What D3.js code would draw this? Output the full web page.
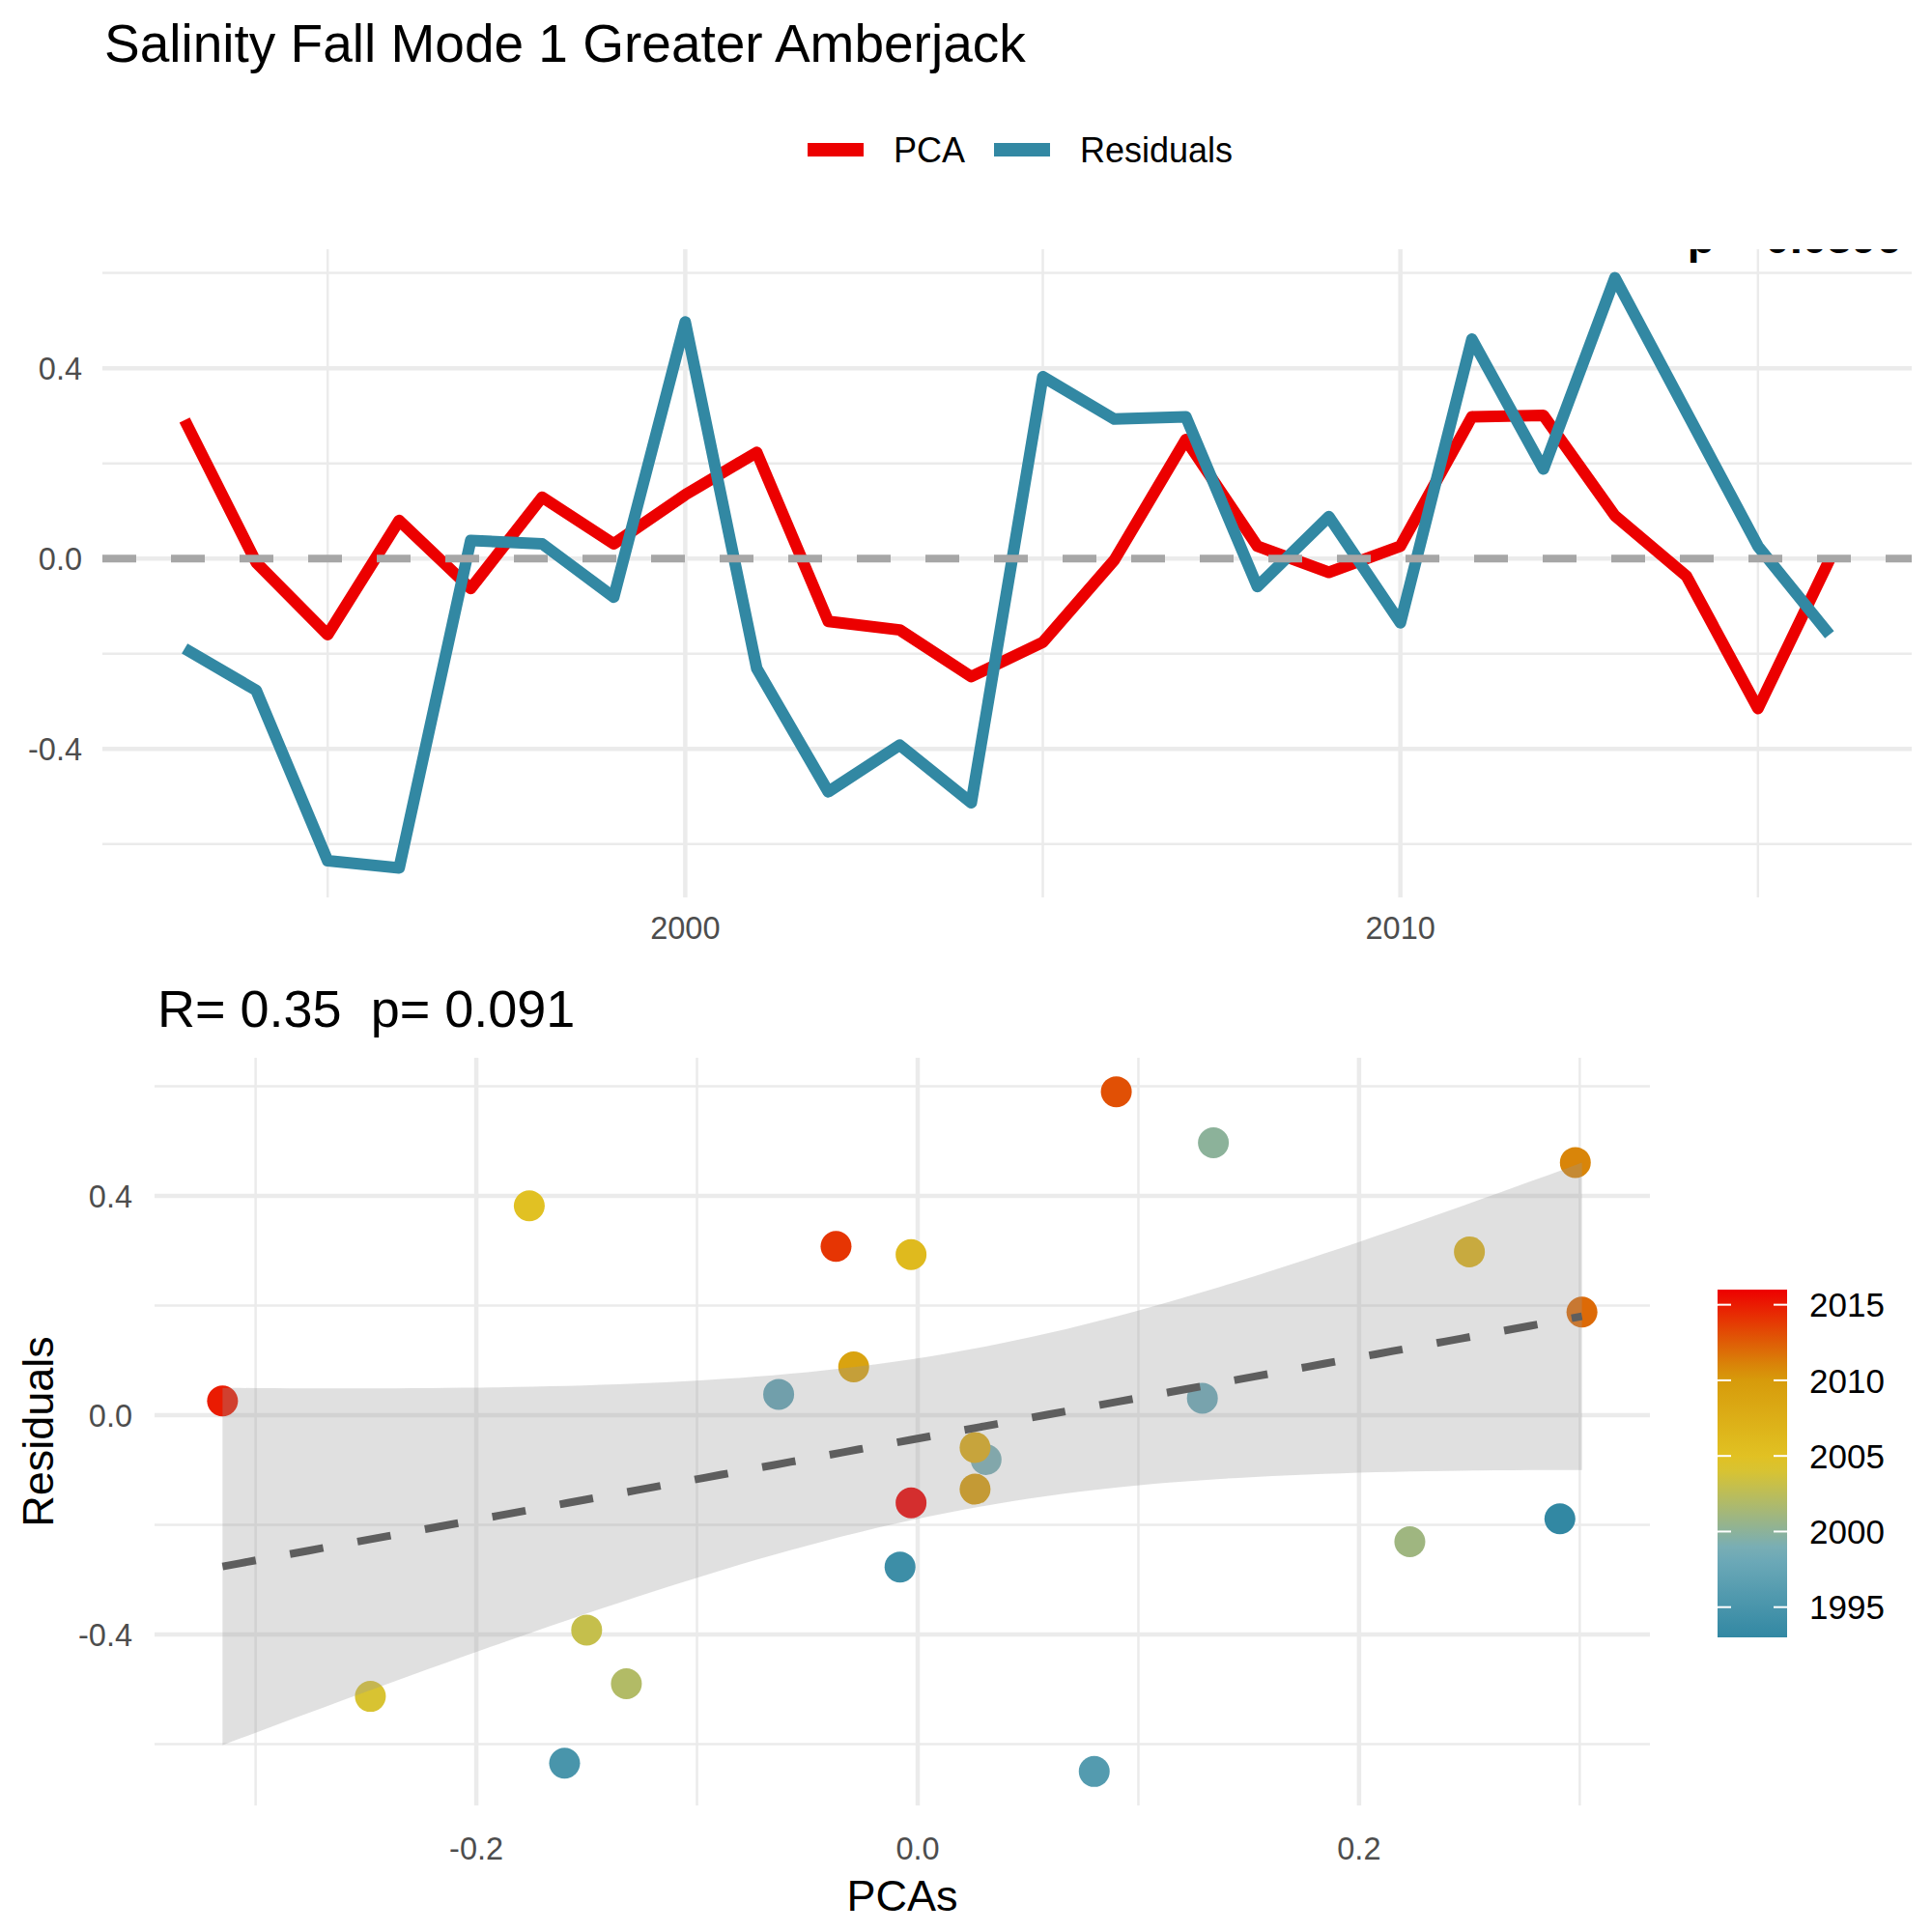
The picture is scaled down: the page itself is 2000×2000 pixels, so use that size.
<!DOCTYPE html>
<html>
<head>
<meta charset="utf-8">
<script src="https://cdn.jsdelivr.net/npm/d3@7"></script>
<style>
  body { margin: 0; background: #fff; }
  text { font-family: "Liberation Sans", Arial, sans-serif; }
</style>
</head>
<body>
<script>
// data
const years = [1993, 1994, 1995, 1996, 1997, 1998, 1999, 2000, 2001, 2002, 2003, 2004,
               2005, 2006, 2007, 2008, 2009, 2010, 2011, 2012, 2013, 2014, 2015, 2016]
const pca = [0.291, -0.008, -0.160, 0.080, -0.063, 0.129, 0.031, 0.134, 0.223, -0.132, -0.150, -0.248,
             -0.176, -0.003, 0.250, 0.026, -0.029, 0.026, 0.298, 0.301, 0.090, -0.037, -0.315, -0.003]
const resid = [-0.189, -0.277, -0.635, -0.650, 0.038, 0.031, -0.081, 0.497, -0.231, -0.490, -0.392, -0.513,
               0.382, 0.293, 0.298, -0.059, 0.088, -0.135, 0.461, 0.188, 0.590, 0.308, 0.026, -0.160]

const yearMajor = [2000, 2010], yearMinor = [1995, 2005, 2015]
const valMajor = [-0.4, 0, 0.4], valMinor = [-0.6, -0.2, 0.2, 0.6]
const pcaMajor = [-0.2, 0, 0.2], pcaMinor = [-0.3, -0.1, 0.1, 0.3]
const legendYears = [1995, 2000, 2005, 2010, 2015]

const seriesNames = ["PCA", "Residuals"]
const seriesColors = ["#EC0000", "#3288A3"]
const rampColors = ["#3288A3", "#74ADBA", "#E2C525", "#D6990A", "#EE0000"]

const titleText = "Salinity Fall Mode 1 Greater Amberjack"
const statText = "R= 0.35  p= 0.091"
const pText = "p = 0.0396"

const expand = ([a, b]) => [a - 0.05 * (b - a), b + 0.05 * (b - a)]
const fmt = v => v.toFixed(1)
const grid = "#EBEBEB"

const svg = d3.select("body").append("svg")
  .attr("width", 2000).attr("height", 2000)
svg.append("rect").attr("width", 2000).attr("height", 2000).attr("fill", "#fff")

svg.append("text").attr("x", 108).attr("y", 64)
  .attr("font-size", 55).attr("fill", "#000").text(titleText)

// ---------- legend (top) ----------
const legX = [836, 1029]
seriesNames.forEach((n, i) => {
  svg.append("line").attr("x1", legX[i]).attr("x2", legX[i] + 58)
    .attr("y1", 155).attr("y2", 155)
    .attr("stroke", seriesColors[i]).attr("stroke-width", 14)
  svg.append("text").attr("x", legX[i] + 89).attr("y", 168)
    .attr("font-size", 36).attr("fill", "#000").text(n)
})

// ---------- top panel: time series ----------
const xT = d3.scaleLinear().domain(expand(d3.extent(years))).range([106, 1979])
const yT = d3.scaleLinear().domain(expand(d3.extent(pca.concat(resid)))).range([929, 257])

const defs = svg.append("defs")
defs.append("clipPath").attr("id", "clipT").append("rect")
  .attr("x", 106).attr("y", 258).attr("width", 1873).attr("height", 671)

const gT = svg.append("g")
gT.selectAll(".hmin").data(valMinor.filter(v => v > yT.domain()[0] && v < yT.domain()[1])).join("line")
  .attr("x1", 106).attr("x2", 1979).attr("y1", d => yT(d)).attr("y2", d => yT(d))
  .attr("stroke", grid).attr("stroke-width", 2.5)
gT.selectAll(".vmin").data(yearMinor).join("line")
  .attr("y1", 258).attr("y2", 929).attr("x1", d => xT(d)).attr("x2", d => xT(d))
  .attr("stroke", grid).attr("stroke-width", 2.5)
gT.selectAll(".hmaj").data(valMajor).join("line")
  .attr("x1", 106).attr("x2", 1979).attr("y1", d => yT(d)).attr("y2", d => yT(d))
  .attr("stroke", grid).attr("stroke-width", 4.5)
gT.selectAll(".vmaj").data(yearMajor).join("line")
  .attr("y1", 258).attr("y2", 929).attr("x1", d => xT(d)).attr("x2", d => xT(d))
  .attr("stroke", grid).attr("stroke-width", 4.5)

const clipped = svg.append("g").attr("clip-path", "url(#clipT)")
const lineT = d3.line().x(d => xT(d[0])).y(d => yT(d[1]))
;[pca, resid].forEach((vals, i) => {
  clipped.append("path").datum(years.map((y, j) => [y, vals[j]]))
    .attr("d", lineT).attr("fill", "none")
    .attr("stroke", seriesColors[i]).attr("stroke-width", 12)
    .attr("stroke-linejoin", "round")
})
clipped.append("line").attr("x1", 106).attr("x2", 1979)
  .attr("y1", yT(0)).attr("y2", yT(0))
  .attr("stroke", "#A6A6A6").attr("stroke-width", 8).attr("stroke-dasharray", "35,36")
// p annotation sits mostly above the panel and gets clipped
clipped.append("text").attr("x", 1968).attr("y", 262)
  .attr("text-anchor", "end").attr("font-size", 46).attr("font-weight", "bold")
  .attr("fill", "#000").text(pText)

gT.selectAll(".ylab").data(valMajor).join("text")
  .attr("x", 85).attr("y", d => yT(d)).attr("dy", "0.36em")
  .attr("text-anchor", "end").attr("font-size", 32.5).attr("fill", "#4D4D4D").text(fmt)
gT.selectAll(".xlab").data(yearMajor).join("text")
  .attr("x", d => xT(d)).attr("y", 972)
  .attr("text-anchor", "middle").attr("font-size", 32.5).attr("fill", "#4D4D4D").text(d => d)

// ---------- bottom panel: scatter + lm ----------
const n = pca.length
const xbar = d3.mean(pca), ybar = d3.mean(resid)
const sxx = d3.sum(pca, v => (v - xbar) ** 2)
const sxy = d3.sum(pca, (v, i) => (v - xbar) * (resid[i] - ybar))
const slope = sxy / sxx, icpt = ybar - slope * xbar
const s = Math.sqrt(d3.sum(pca, (v, i) => (resid[i] - icpt - slope * v) ** 2) / (n - 2))
const tq = 2.0739
const [pmin, pmax] = d3.extent(pca)
const fit = d3.range(80).map(k => {
  const x = pmin + (pmax - pmin) * k / 79
  const yh = icpt + slope * x
  const se = s * Math.sqrt(1 / n + (x - xbar) ** 2 / sxx)
  return { x, y: yh, lo: yh - tq * se, hi: yh + tq * se }
})

const xS = d3.scaleLinear().domain(expand([pmin, pmax])).range([160, 1708])
const yS = d3.scaleLinear()
  .domain(expand([d3.min([d3.min(resid), d3.min(fit, d => d.lo)]), d3.max([d3.max(resid), d3.max(fit, d => d.hi)])]))
  .range([1869, 1095])
const col = d3.scaleLinear()
  .domain(d3.range(5).map(k => years[0] + (years[n - 1] - years[0]) * k / 4))
  .range(rampColors).interpolate(d3.interpolateRgb)

svg.append("text").attr("x", 163).attr("y", 1063)
  .attr("font-size", 54).attr("fill", "#000").style("white-space", "pre").text(statText)

const gS = svg.append("g")
gS.selectAll(".hmin").data(valMinor).join("line")
  .attr("x1", 160).attr("x2", 1708).attr("y1", d => yS(d)).attr("y2", d => yS(d))
  .attr("stroke", grid).attr("stroke-width", 2.5)
gS.selectAll(".vmin").data(pcaMinor).join("line")
  .attr("y1", 1095).attr("y2", 1869).attr("x1", d => xS(d)).attr("x2", d => xS(d))
  .attr("stroke", grid).attr("stroke-width", 2.5)
gS.selectAll(".hmaj").data(valMajor).join("line")
  .attr("x1", 160).attr("x2", 1708).attr("y1", d => yS(d)).attr("y2", d => yS(d))
  .attr("stroke", grid).attr("stroke-width", 4.5)
gS.selectAll(".vmaj").data(pcaMajor).join("line")
  .attr("y1", 1095).attr("y2", 1869).attr("x1", d => xS(d)).attr("x2", d => xS(d))
  .attr("stroke", grid).attr("stroke-width", 4.5)

gS.selectAll("circle").data(years).join("circle")
  .attr("cx", (d, i) => xS(pca[i])).attr("cy", (d, i) => yS(resid[i]))
  .attr("r", 16).attr("fill", d => col(d))

gS.append("path").datum(fit)
  .attr("d", d3.area().x(d => xS(d.x)).y0(d => yS(d.lo)).y1(d => yS(d.hi)))
  .attr("fill", "#999999").attr("fill-opacity", 0.3)
gS.append("path").datum(fit)
  .attr("d", d3.line().x(d => xS(d.x)).y(d => yS(d.y)))
  .attr("fill", "none").attr("stroke", "#5E5E5E").attr("stroke-width", 8)
  .attr("stroke-dasharray", "35,36")

gS.selectAll(".ylab").data(valMajor).join("text")
  .attr("x", 137).attr("y", d => yS(d)).attr("dy", "0.36em")
  .attr("text-anchor", "end").attr("font-size", 32.5).attr("fill", "#4D4D4D").text(fmt)
gS.selectAll(".xlab").data(pcaMajor).join("text")
  .attr("x", d => xS(d)).attr("y", 1925)
  .attr("text-anchor", "middle").attr("font-size", 32.5).attr("fill", "#4D4D4D").text(fmt)

svg.append("text").attr("x", xS.range().reduce((a, b) => a + b) / 2).attr("y", 1978)
  .attr("text-anchor", "middle").attr("font-size", 45).attr("fill", "#000").text("PCAs")
svg.append("text").attr("transform", "translate(55,1482) rotate(-90)")
  .attr("text-anchor", "middle").attr("font-size", 45).attr("fill", "#000").text("Residuals")

// ---------- colour bar ----------
const cb = d3.scaleLinear().domain(d3.extent(years)).range([1695, 1335])
const grad = defs.append("linearGradient").attr("id", "cbar")
  .attr("x1", 0).attr("x2", 0).attr("y1", 1).attr("y2", 0)
d3.range(0, 24).forEach(k => {
  const yr = years[0] + (years[n - 1] - years[0]) * k / 23
  grad.append("stop").attr("offset", k / 23).attr("stop-color", col(yr))
})
svg.append("rect").attr("x", 1778).attr("y", 1335).attr("width", 72).attr("height", 360)
  .attr("fill", "url(#cbar)")
legendYears.forEach(yr => {
  svg.append("line").attr("x1", 1778).attr("x2", 1792).attr("y1", cb(yr)).attr("y2", cb(yr))
    .attr("stroke", "#fff").attr("stroke-width", 2)
  svg.append("line").attr("x1", 1836).attr("x2", 1850).attr("y1", cb(yr)).attr("y2", cb(yr))
    .attr("stroke", "#fff").attr("stroke-width", 2)
  svg.append("text").attr("x", 1873).attr("y", cb(yr)).attr("dy", "0.36em")
    .attr("font-size", 35).attr("fill", "#000").text(yr)
})
</script>
</body>
</html>
